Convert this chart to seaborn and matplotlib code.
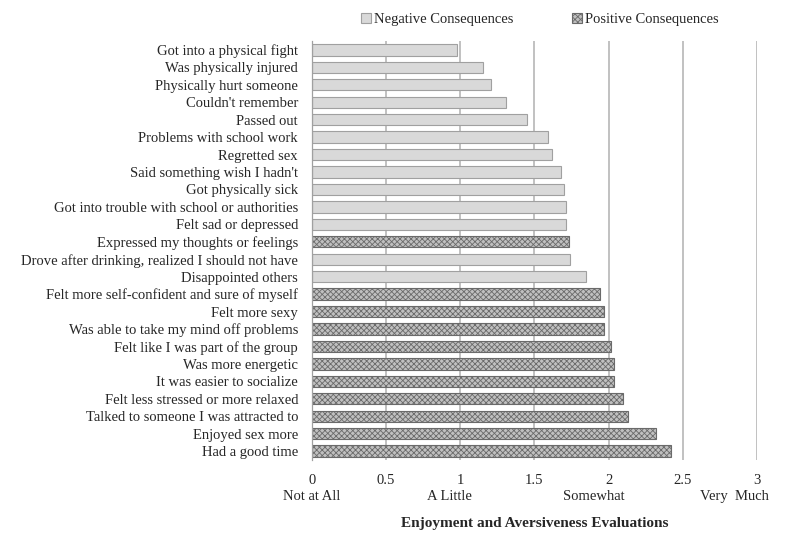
import numpy as np
import pandas as pd
import matplotlib
matplotlib.use("Agg")
import matplotlib.pyplot as plt
import seaborn as sns
from matplotlib.patches import Patch
from matplotlib.transforms import blended_transform_factory

# data, top to bottom
items = [
    "Got into a physical fight",
    "Was physically injured",
    "Physically hurt someone",
    "Couldn't remember",
    "Passed out",
    "Problems with school work",
    "Regretted sex",
    "Said something wish I hadn't",
    "Got physically sick",
    "Got into trouble with school or authorities",
    "Felt sad or depressed",
    "Expressed my thoughts or feelings",
    "Drove after drinking, realized I should not have",
    "Disappointed others",
    "Felt more self-confident and sure of myself",
    "Felt more sexy",
    "Was able to take my mind off problems",
    "Felt like I was part of the group",
    "Was more energetic",
    "It was easier to socialize",
    "Felt less stressed or more relaxed",
    "Talked to someone I was attracted to",
    "Enjoyed sex more",
    "Had a good time",
]
scores = [0.98, 1.15, 1.21, 1.31, 1.45, 1.59, 1.62, 1.68, 1.70, 1.71, 1.71,
          1.73, 1.74, 1.85, 1.94, 1.97, 1.97, 2.02, 2.04, 2.04, 2.10, 2.13,
          2.32, 2.42]
kinds = ["Negative Consequences"] * 11 + ["Positive Consequences"] + \
        ["Negative Consequences"] * 2 + ["Positive Consequences"] * 10

x_ticks = [0, 0.5, 1, 1.5, 2, 2.5, 3]
anchor_labels = ["Not at All", "A Little", "Somewhat", "Very  Much"]
anchor_pos = [0, 0.93, 1.9, 2.85]

df = pd.DataFrame({"item": items, "score": scores, "kind": kinds})

sns.set_style("white")
plt.rcParams["font.family"] = ["Liberation Serif", "DejaVu Serif"]
plt.rcParams["hatch.linewidth"] = 0.6

fig = plt.figure(figsize=(8, 5.41), dpi=100)
ax = fig.add_axes([0.39, 0.15, 0.556, 0.774])

neg_color = "#d9d9d9"
pos_color = "#c0c0c0"
sns.barplot(data=df, x="score", y="item", hue="kind", dodge=False,
            palette={"Negative Consequences": neg_color,
                     "Positive Consequences": pos_color},
            hue_order=["Negative Consequences", "Positive Consequences"],
            width=0.65, legend=False, ax=ax, zorder=3)

for cont, kind in zip(ax.containers, ["Negative Consequences", "Positive Consequences"]):
    for bar in cont:
        if kind == "Negative Consequences":
            bar.set_edgecolor("#a0a0a0")
        else:
            bar.set_edgecolor("#6a6a6a")
            bar.set_hatch("xxxxxx")
        bar.set_linewidth(0.8)

ax.set_xlim(0, 3)
ax.set_ylim(len(items) - 0.5, -0.5)
ax.set_xticks(x_ticks)
ax.set_xticklabels(["0", "0.5", "1", "1.5", "2", "2.5", "3"], fontsize=10.5)
ax.set_yticks(range(len(items)))
ax.set_yticklabels(items, fontsize=10.5)
ax.set_yticks(np.arange(-0.5, len(items), 1.0), minor=True)
ax.tick_params(axis="y", which="major", length=0, pad=10)
ax.tick_params(axis="y", which="minor", length=4, color="#a0a0a0", width=0.8)
ax.tick_params(axis="x", length=5, color="#b0b0b0", width=1, pad=5)
ax.set_ylabel("")
ax.set_xlabel("Enjoyment and Aversiveness Evaluations", fontsize=11,
              fontweight="bold", labelpad=22)

ax.xaxis.grid(True, color="#b0b0b0", linewidth=1.1, zorder=0)
ax.set_axisbelow(True)
for s in ["top", "right", "bottom"]:
    ax.spines[s].set_visible(False)
ax.spines["left"].set_color("#a0a0a0")
ax.spines["left"].set_linewidth(0.9)
ax.spines["left"].set_zorder(4)

trans = blended_transform_factory(ax.transData, ax.transAxes)
for lab, pos in zip(anchor_labels, anchor_pos):
    ax.text(pos, -0.072, lab, transform=trans, ha="center", va="top",
            fontsize=10.5)

handles = [Patch(facecolor=neg_color, edgecolor="#a0a0a0", linewidth=0.8),
           Patch(facecolor=pos_color, edgecolor="#6a6a6a", hatch="xxxxxx",
                 linewidth=0.8)]
fig.legend(handles, ["Negative Consequences", "Positive Consequences"],
           loc="upper center", bbox_to_anchor=(0.675, 1.0), ncol=2,
           frameon=False, fontsize=10.5, handlelength=0.7, handleheight=0.7,
           handletextpad=0.2, columnspacing=4)

fig.savefig("out.png", dpi=100)
